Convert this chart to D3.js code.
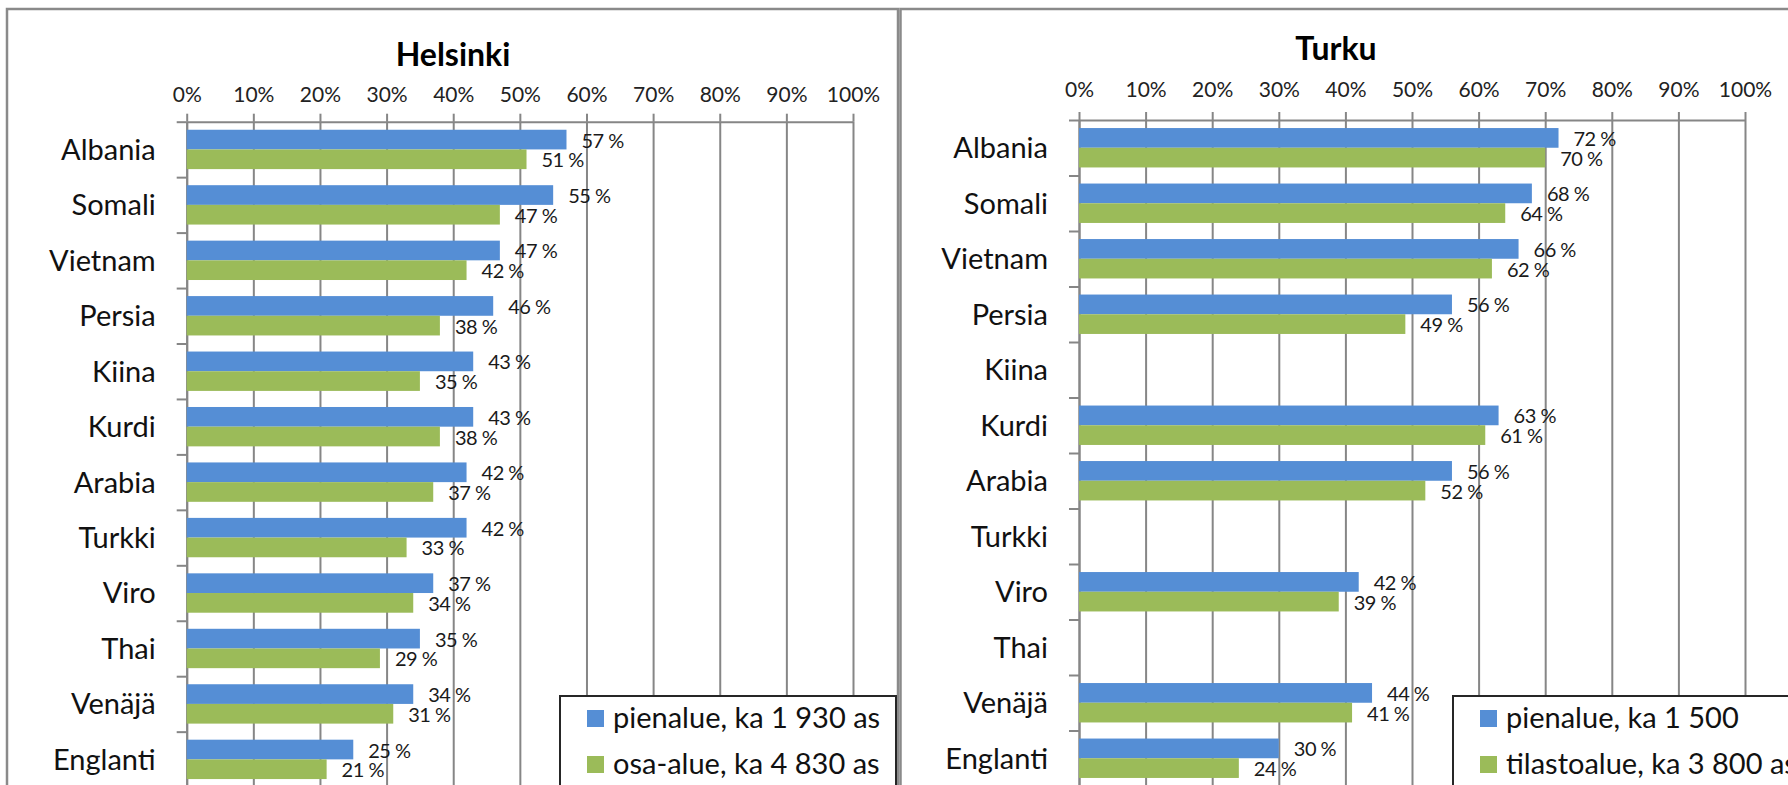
<!DOCTYPE html>
<html>
<head>
<meta charset="utf-8">
<script src="https://cdn.jsdelivr.net/npm/d3@7/dist/d3.min.js"></script>
<style>
  body { margin: 0; background: #fff; }
  svg { display: block; font-family: Lato, 'Open Sans', sans-serif; }
  .axis path, .axis line { stroke: #868686; stroke-width: 2; }
  .grid line { stroke: #868686; stroke-width: 2; }
  .grid path { display: none; }
</style>
</head>
<body>
<svg id="chart" width="1788" height="785"></svg>
<script>
// categories, top to bottom
const categories = ['Albania', 'Somali', 'Vietnam', 'Persia', 'Kiina', 'Kurdi',
  'Arabia', 'Turkki', 'Viro', 'Thai', 'Venäjä', 'Englanti'];
const percentTicks = [0, 10, 20, 30, 40, 50, 60, 70, 80, 90, 100];

const helsinkiSmall = [57, 55, 47, 46, 43, 43, 42, 42, 37, 35, 34, 25];
const helsinkiLarge = [51, 47, 42, 38, 35, 38, 37, 33, 34, 29, 31, 21];
const turkuSmall = [72, 68, 66, 56, null, 63, 56, null, 42, null, 44, 30];
const turkuLarge = [70, 64, 62, 49, null, 61, 52, null, 39, null, 41, 24];

const helsinkiLegend = ['pienalue, ka 1 930 as', 'osa-alue, ka 4 830 as'];
const turkuLegend = ['pienalue, ka 1 500', 'tilastoalue, ka 3 800 as'];

const colors = ['#558ed5', '#9bbb59'];

const svg = d3.select('#chart');

// panel frames
svg.append('rect')
  .attr('x', 7).attr('y', 9).attr('width', 891).attr('height', 800)
  .attr('fill', 'none').attr('stroke', '#8a8a8a').attr('stroke-width', 2.5);
svg.append('rect')
  .attr('x', 900.5).attr('y', 9).attr('width', 940).attr('height', 800)
  .attr('fill', 'none').attr('stroke', '#8a8a8a').attr('stroke-width', 2.5);

/**
 * draws one bar panel
 * @param {Object} p panel layout and data
 */
function drawPanel(p) {
  const g = svg.append('g');
  const n = categories.length;
  const bottom = p.top + n * p.step;

  const x = d3.scaleLinear()
    .domain([0, 100])
    .range([p.x0, p.x1]);
  const y = d3.scaleBand()
    .domain(categories)
    .range([p.top, bottom])
    .paddingInner(0.29)
    .paddingOuter(0.145);
  const ySeries = d3.scaleBand()
    .domain([0, 1])
    .range([0, y.bandwidth()]);
  const yEdge = d3.scaleLinear()
    .domain([0, n])
    .range([p.top, bottom]);

  // gridlines
  g.append('g')
    .attr('class', 'grid')
    .attr('transform', `translate(0, ${p.top})`)
    .call(d3.axisBottom(x).tickValues(percentTicks).tickSize(bottom - p.top).tickFormat(''));

  // top axis
  const xAxis = g.append('g')
    .attr('class', 'axis')
    .attr('transform', `translate(0, ${p.top})`)
    .call(d3.axisTop(x).tickValues(percentTicks).tickSize(8).tickSizeOuter(0)
      .tickPadding(p.tickPad).tickFormat(d => `${d}%`))
    .attr('font-family', null)
    .attr('font-size', null);
  xAxis.selectAll('text')
    .attr('fill', '#222')
    .style('font-size', '21px');

  // category axis: ticks on band edges
  g.append('g')
    .attr('class', 'axis')
    .attr('transform', `translate(${p.x0}, 0)`)
    .call(d3.axisLeft(yEdge).tickValues(d3.range(0, n + 1)).tickSize(10).tickSizeOuter(0).tickFormat(''));

  const yAxis = g.append('g')
    .attr('transform', `translate(${p.x0}, 0)`)
    .call(d3.axisLeft(y).tickSize(0).tickPadding(31))
    .attr('font-family', null)
    .attr('font-size', null);
  yAxis.select('.domain').remove();
  yAxis.selectAll('text')
    .attr('fill', '#111')
    .attr('dy', '0.36em')
    .style('font-size', '29px');

  // bars
  [p.small, p.large].forEach((values, s) => {
    const rows = categories.map((c, i) => ({c: c, v: values[i]})).filter(d => d.v !== null);
    g.append('g').selectAll('rect')
      .data(rows)
      .join('rect')
      .attr('x', x(0))
      .attr('y', d => y(d.c) + ySeries(s))
      .attr('width', d => x(d.v) - x(0))
      .attr('height', ySeries.bandwidth())
      .attr('fill', colors[s]);
    g.append('g').selectAll('text')
      .data(rows)
      .join('text')
      .attr('x', d => x(d.v) + 15)
      .attr('y', d => y(d.c) + ySeries(s) + ySeries.bandwidth() / 2 + 1)
      .attr('dy', '0.35em')
      .attr('fill', '#1a1a1a')
      .style('font-size', '20px')
      .style('letter-spacing', '-0.5px')
      .text(d => `${d.v} %`);
  });

  // title
  g.append('text')
    .attr('x', p.titleX)
    .attr('y', p.titleY)
    .attr('text-anchor', 'middle')
    .attr('fill', '#000')
    .style('font-size', '32px')
    .style('font-weight', 'bold')
    .text(p.title);

  // legend
  const lg = g.append('g');
  lg.append('rect')
    .attr('x', p.legendX).attr('y', 696)
    .attr('width', p.legendW).attr('height', 120)
    .attr('fill', '#fff').attr('stroke', '#262626').attr('stroke-width', 2);
  p.legend.forEach((label, i) => {
    lg.append('rect')
      .attr('x', p.legendX + 27).attr('y', 710 + i * 46)
      .attr('width', 17).attr('height', 17)
      .attr('fill', colors[i]);
    lg.append('text')
      .attr('x', p.legendX + 53).attr('y', 728 + i * 46)
      .attr('fill', '#111')
      .style('font-size', '29px')
      .text(label);
  });
}

drawPanel({
  title: 'Helsinki', titleX: 453, titleY: 66,
  x0: 186.7, x1: 853, top: 121.7, step: 55.45, tickPad: 12,
  small: helsinkiSmall, large: helsinkiLarge,
  legend: helsinkiLegend, legendX: 560, legendW: 336
});

drawPanel({
  title: 'Turku', titleX: 1336, titleY: 60,
  x0: 1079, x1: 1745, top: 120, step: 55.5, tickPad: 15,
  small: turkuSmall, large: turkuLarge,
  legend: turkuLegend, legendX: 1453, legendW: 400
});
</script>
</body>
</html>
